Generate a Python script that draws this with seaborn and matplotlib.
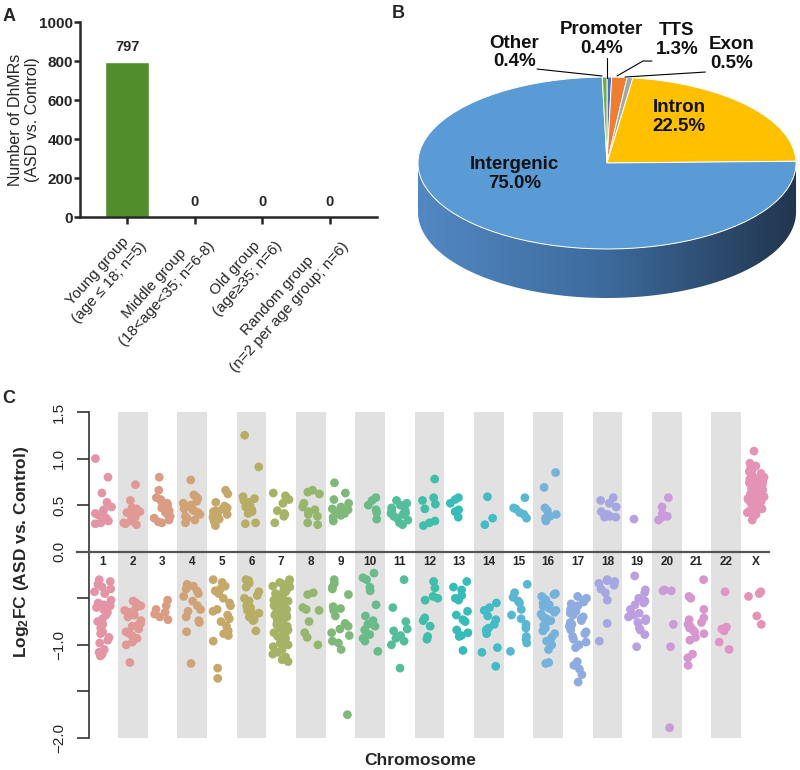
import numpy as np
import pandas as pd
import matplotlib
matplotlib.use("Agg")
import matplotlib.pyplot as plt
from matplotlib.patches import Polygon
from matplotlib.colors import LinearSegmentedColormap
import seaborn as sns

# ---- panel A: number of DhMRs per age group
groups = ["Young group\n(age ≤ 18; n=5)",
          "Middle group\n(18<age<35; n=6-8)",
          "Old group\n(age≥35; n=6)",
          "Random group\n(n=2 per age group; n=6)"]
dhmr_counts = [797, 0, 0, 0]

# ---- panel B: genomic distribution of DhMRs
regions = ["Promoter", "TTS", "Exon", "Intron", "Intergenic", "Other"]
region_pct = [0.4, 1.3, 0.5, 22.5, 75.0, 0.4]
region_colors = ["#4472C4", "#ED7D31", "#A5A5A5", "#FFC000", "#5B9BD5", "#70AD47"]

# ---- panel C: log2FC of DhMRs per chromosome
chrom_labels = [str(i) for i in range(1, 23)] + ["X"]
chr_1 = [1.00, 0.80, 0.63, 0.53, 0.48, 0.45, 0.43, 0.41, 0.39, 0.37, 0.36, 0.33, 0.31, 0.30,
         -0.30, -0.32, -0.35, -0.38, -0.40, -0.43, -0.45, -0.52, -0.55, -0.57, -0.58, -0.60, -0.62,
         -0.65, -0.68, -0.72, -0.75, -0.78, -0.82, -0.86, -0.88, -0.92, -0.95, -0.98, -1.05, -1.08,
         -1.10, -1.12]
chr_2 = [0.72, 0.55, 0.47, 0.46, 0.44, 0.43, 0.42, 0.41, 0.40, 0.38, 0.37, 0.35, 0.33, 0.31, 0.30, 0.29,
         -0.53, -0.55, -0.58, -0.60, -0.63, -0.65, -0.68, -0.70, -0.74, -0.77, -0.78, -0.80, -0.83,
         -0.86, -0.88, -0.90, -0.93, -0.97, -1.00, -1.19]
chr_3 = [0.80, 0.66, 0.58, 0.56, 0.54, 0.52, 0.50, 0.49, 0.47, 0.46, 0.44, 0.42, 0.40, 0.38, 0.36,
         0.34, 0.32, 0.31,
         -0.52, -0.58, -0.62, -0.65, -0.67, -0.70, -0.73]
chr_4 = [0.77, 0.61, 0.59, 0.57, 0.54, 0.52, 0.50, 0.48, 0.46, 0.45, 0.44, 0.42, 0.40, 0.38, 0.36,
         0.34, 0.31,
         -0.35, -0.37, -0.40, -0.42, -0.45, -0.48, -0.53, -0.58, -0.62, -0.64, -0.70, -0.74, -0.76,
         -0.86, -1.20]
chr_5 = [0.66, 0.62, 0.53, 0.49, 0.47, 0.46, 0.44, 0.43, 0.42, 0.40, 0.38, 0.37, 0.35, 0.33, 0.28,
         -0.30, -0.33, -0.37, -0.40, -0.42, -0.45, -0.50, -0.55, -0.58, -0.62, -0.64, -0.68, -0.72,
         -0.75, -0.80, -0.85, -0.88, -0.90, -0.96, -1.25, -1.36]
chr_6 = [1.25, 0.91, 0.59, 0.57, 0.55, 0.53, 0.50, 0.48, 0.45, 0.43, 0.41, 0.31, 0.30,
         -0.30, -0.31, -0.34, -0.38, -0.43, -0.47, -0.50, -0.53, -0.58, -0.60, -0.63, -0.65, -0.66,
         -0.70, -0.73, -0.74, -0.85]
chr_7 = [0.63, 0.60, 0.56, 0.52, 0.44, 0.41, 0.40, 0.38, 0.31,
         -0.30, -0.32, -0.33, -0.35, -0.37, -0.38, -0.40, -0.42, -0.43, -0.45, -0.47, -0.48, -0.50,
         -0.52, -0.53, -0.55, -0.57, -0.58, -0.60, -0.62, -0.63, -0.65, -0.67, -0.68, -0.70, -0.71,
         -0.73, -0.75, -0.77, -0.78, -0.80, -0.82, -0.84, -0.85, -0.87, -0.89, -0.91, -0.93, -0.96,
         -0.98, -1.00, -1.02, -1.05, -1.08, -1.10, -1.13, -1.16, -1.18]
chr_8 = [0.66, 0.64, 0.62, 0.52, 0.48, 0.45, 0.43, 0.40, 0.38, 0.31, 0.29,
         -0.44, -0.46, -0.60, -0.62, -0.63, -0.75, -0.87, -0.92, -1.00]
chr_9 = [0.74, 0.63, 0.56, 0.52, 0.48, 0.46, 0.45, 0.43, 0.41, 0.39, 0.37, 0.33,
         -0.30, -0.34, -0.38, -0.40, -0.46, -0.59, -0.61, -0.63, -0.69, -0.77, -0.80, -0.83, -0.87,
         -0.90, -0.96, -0.98, -1.05, -1.75]
chr_10 = [0.58, 0.55, 0.50, 0.45, 0.42, 0.35,
          -0.23, -0.28, -0.30, -0.38, -0.42, -0.57, -0.69, -0.74, -0.78, -0.80, -0.84, -0.89, -0.93,
          -0.96, -1.07]
chr_11 = [0.55, 0.52, 0.50, 0.47, 0.45, 0.44, 0.42, 0.41, 0.40, 0.38, 0.36, 0.34, 0.31, 0.29,
          -0.30, -0.60, -0.75, -0.83, -0.85, -0.90, -0.93, -0.96, -1.00, -1.25]
chr_12 = [0.78, 0.58, 0.55, 0.51, 0.46, 0.33, 0.31, 0.28,
          -0.32, -0.39, -0.48, -0.50, -0.52, -0.71, -0.74, -0.80, -0.91, -0.94]
chr_13 = [0.58, 0.56, 0.52, 0.45, 0.43, 0.37,
          -0.32, -0.38, -0.41, -0.47, -0.50, -0.52, -0.64, -0.68, -0.73, -0.75, -0.84, -0.87, -0.90,
          -0.91, -1.06]
chr_14 = [0.59, 0.36, 0.29,
          -0.55, -0.60, -0.63, -0.69, -0.73, -0.78, -0.82, -0.84, -0.88, -1.03, -1.08, -1.23]
chr_15 = [0.58, 0.47, 0.46, 0.42, 0.40, 0.36,
          -0.35, -0.44, -0.49, -0.53, -0.55, -0.62, -0.68, -0.72, -0.78, -0.82, -0.91, -0.94, -0.98,
          -1.07]
chr_16 = [0.85, 0.69, 0.47, 0.44, 0.40, 0.38, 0.36, 0.33,
          -0.45, -0.46, -0.48, -0.50, -0.52, -0.55, -0.57, -0.59, -0.61, -0.63, -0.65, -0.67, -0.70,
          -0.72, -0.74, -0.76, -0.79, -0.82, -0.85, -0.88, -0.92, -0.96, -1.00, -1.05, -1.19, -1.20]
chr_17 = [-0.48, -0.50, -0.52, -0.54, -0.56, -0.58, -0.60, -0.62, -0.64, -0.66, -0.68, -0.70,
          -0.72, -0.74, -0.76, -0.78, -0.80, -0.82, -0.84, -0.86, -0.88, -0.91, -0.94, -0.97, -1.00,
          -1.03, -1.18, -1.22, -1.26, -1.32, -1.40]
chr_18 = [0.58, 0.55, 0.52, 0.48, 0.43, 0.40, 0.38, 0.37, 0.37,
          -0.30, -0.31, -0.32, -0.34, -0.36, -0.40, -0.44, -0.52, -0.77, -0.96]
chr_19 = [0.35,
          -0.26, -0.41, -0.44, -0.50, -0.53, -0.55, -0.57, -0.62, -0.66, -0.68, -0.70, -0.72, -0.74,
          -0.76, -0.82, -0.84, -0.89, -1.02]
chr_20 = [0.58, 0.48, 0.41, 0.38, 0.37, 0.34,
          -0.41, -0.42, -0.42, -0.78, -1.02, -1.89]
chr_21 = [-0.30, -0.48, -0.50, -0.62, -0.71, -0.73, -0.76, -0.78, -0.80, -0.82, -0.84, -0.86,
          -0.88, -0.92, -0.95, -1.10, -1.14, -1.22]
chr_22 = [-0.43, -0.81, -0.83, -0.85, -0.97, -1.05]
chr_X = [1.08, 0.95, 0.92, 0.90, 0.88, 0.86, 0.84, 0.82, 0.80, 0.79, 0.78, 0.77, 0.76, 0.75, 0.74,
         0.73, 0.72, 0.71, 0.70, 0.69, 0.68, 0.67, 0.66, 0.65, 0.64, 0.63, 0.62, 0.61, 0.60, 0.59,
         0.58, 0.57, 0.56, 0.55, 0.54, 0.52, 0.50, 0.48, 0.46, 0.44, 0.42, 0.40, 0.38, 0.34,
         -0.43, -0.45, -0.48, -0.69, -0.78]
chrom_values = [chr_1, chr_2, chr_3, chr_4, chr_5, chr_6, chr_7, chr_8, chr_9, chr_10, chr_11,
                chr_12, chr_13, chr_14, chr_15, chr_16, chr_17, chr_18, chr_19, chr_20, chr_21,
                chr_22, chr_X]


def rainbow_hcl(n, c=50, l=70):
    #hcl (polar Luv) colours evenly spaced in hue, like R's rainbow_hcl
    h = np.deg2rad(np.arange(n) * 360.0 / n)
    u, v = c * np.cos(h), c * np.sin(h)
    xn, yn, zn = 95.047, 100.0, 108.883
    den = xn + 15 * yn + 3 * zn
    un, vn = 4 * xn / den, 9 * yn / den
    Y = yn * ((l + 16) / 116.0) ** 3
    up, vp = u / (13 * l) + un, v / (13 * l) + vn
    X = Y * 9 * up / (4 * vp)
    Z = Y * (12 - 3 * up - 20 * vp) / (4 * vp)
    xyz = np.vstack([X, np.full(n, Y), Z]) / 100.0
    m = np.array([[3.2404542, -1.5371385, -0.4985314],
                  [-0.9692660, 1.8760108, 0.0415560],
                  [0.0556434, -0.2040259, 1.0572252]])
    rgb = (m @ xyz).T
    rgb = np.where(rgb <= 0.0031308, 12.92 * rgb, 1.055 * np.clip(rgb, 0, None) ** (1 / 2.4) - 0.055)
    return [tuple(x) for x in np.clip(rgb, 0, 1)]


sns.set_style("ticks")
plt.rcParams["font.family"] = ["Liberation Sans", "DejaVu Sans"]
plt.rcParams["mathtext.fontset"] = "custom"
plt.rcParams["mathtext.bf"] = "Liberation Sans:bold"
plt.rcParams["mathtext.rm"] = "Liberation Sans:bold"

fig = plt.figure(figsize=(8, 7.7), dpi=100)

#panel A - bar chart
axA = fig.add_axes([0.1, 0.718, 0.371, 0.253])
dfA = pd.DataFrame({"group": groups, "count": dhmr_counts})
sns.barplot(data=dfA, x="group", y="count", color="#4F8E2B", saturation=1, width=0.65, ax=axA)
axA.bar_label(axA.containers[0], padding=6, fontsize=10.5, fontweight="bold")
axA.set_xlim(-0.7, 3.7)
axA.set_ylim(0, 1000)
axA.set_yticks(range(0, 1001, 200))
axA.set_xticks(range(len(groups)))
axA.set_xticklabels(groups, rotation=48, ha="right", rotation_mode="anchor", fontsize=11,
                    multialignment="center")
for lbl in axA.get_xticklabels():
    lbl.set_x(lbl.get_position()[0] + 0.12)
for lbl in axA.get_yticklabels():
    lbl.set_fontweight("bold")
axA.tick_params(axis="y", labelsize=11, width=1.8, length=4, pad=1)
axA.tick_params(axis="x", width=1.8, length=5, pad=3)
axA.set_xlabel("")
axA.set_ylabel("Number of DhMRs\n(ASD vs. Control)", fontsize=11.5)
axA.yaxis.set_label_coords(-0.135, 0.5)
sns.despine(ax=axA)
for s in ["left", "bottom"]:
    axA.spines[s].set_linewidth(1.8)

#panel B - pseudo 3D pie
axB = fig.add_axes([0.5, 0.5844, 0.5, 0.3896])
depth = 0.57
t = np.linspace(np.pi, 2 * np.pi, 200)
side = np.concatenate([np.c_[np.cos(t), np.sin(t)],
                       np.c_[np.cos(t[::-1]), np.sin(t[::-1]) - depth]])
side_poly = Polygon(side, closed=True, facecolor="none", edgecolor="none")
axB.add_patch(side_poly)
side_cmap = LinearSegmentedColormap.from_list("side", ["#5288C2", "#3C6A9C", "#22354E"])
im = axB.imshow(np.linspace(0, 1, 256)[None, :], extent=(-1, 1, -1 - depth, 0.05),
                aspect="auto", cmap=side_cmap, zorder=0.5)
im.set_clip_path(side_poly)
axB.pie(region_pct, colors=region_colors, startangle=90, counterclock=False, radius=1,
        center=(0, 0), wedgeprops=dict(edgecolor="white", linewidth=0.7))
axB.set_aspect("auto")
axB.set_xlim(-1.095, 1.021)
axB.set_ylim(-1.826, 1.663)
axB.axis("off")

label_pos = [(-0.03, 1.44), (0.37, 1.43), (0.66, 1.267), (0.38, 0.535), (-0.49, -0.128), (-0.49, 1.285)]
for name, pct, (lx, ly) in zip(regions, region_pct, label_pos):
    axB.text(lx, ly, f"{name}\n{pct:.1f}%", ha="center", va="center", fontsize=13.5,
             fontweight="bold", color="#111111", linespacing=1.12)
leaders = [([-0.37, -0.026], [1.093, 1.012]),
           ([0.0, 0.0], [1.22, 0.988]),
           ([0.238, 0.19, 0.053], [1.186, 1.186, 1.012]),
           ([0.52, 0.095], [1.058, 1.0])]
for lx, ly in leaders:
    axB.plot(lx, ly, color="black", lw=0.8)

#panel C - strip plot per chromosome
rows = [(c, v) for c, vals in zip(chrom_labels, chrom_values) for v in vals]
dfC = pd.DataFrame(rows, columns=["chrom", "log2fc"])
pal = rainbow_hcl(len(chrom_labels))

axC = fig.add_axes([0.09625, 0.04156, 0.865, 0.4234])
for i in range(1, 23, 2):
    axC.axvspan(i - 0.5, i + 0.5, color="#E1E1E1", lw=0, zorder=0)
np.random.seed(7)
sns.stripplot(data=dfC, x="chrom", y="log2fc", hue="chrom", order=chrom_labels,
              hue_order=chrom_labels, palette=pal, legend=False, jitter=0.3, size=6.3,
              linewidth=0, ax=axC, zorder=2)
axC.set_xlim(-0.876, 22.44)
axC.set_ylim(-2.0, 1.5)
axC.spines["top"].set_visible(False)
axC.spines["right"].set_visible(False)
axC.spines["left"].set_position(("data", -0.47))
axC.spines["left"].set_linewidth(1.2)
axC.spines["left"].set_color("#333333")
axC.spines["bottom"].set_position(("data", 0))
axC.spines["bottom"].set_color("#555555")
axC.spines["bottom"].set_linewidth(1.6)
axC.spines["bottom"].set_zorder(3)
axC.tick_params(axis="x", length=0, pad=3, labelsize=8.5)
for lbl in axC.get_xticklabels():
    lbl.set_fontweight("bold")
axC.set_yticks([1.5, 1.0, 0.5, 0.0, -0.5, -1.0, -1.5, -2.0])
axC.set_yticklabels(["1.5", "1.0", "0.5", "0.0", "", "\u22121.0", "", "\u22122.0"])
axC.tick_params(axis="y", length=8.6, width=1.2, color="#333333", pad=8, labelsize=11,
                labelrotation=90)
for lbl in axC.get_yticklabels():
    lbl.set_va("center")
axC.set_xlabel("Chromosome", fontsize=12.5, fontweight="bold")
axC.xaxis.set_label_coords(0.496, -0.045)
axC.set_ylabel("Log$\\mathbf{_2}$FC (ASD vs. Control)", fontsize=12.5, fontweight="bold")
axC.yaxis.set_label_coords(-0.066, 0.57)

fig.text(0.003, 0.99, "A", fontsize=13, fontweight="bold", va="top")
fig.text(0.49, 0.993, "B", fontsize=13, fontweight="bold", va="top")
fig.text(0.003, 0.494, "C", fontsize=13, fontweight="bold", va="top")

plt.savefig("out.png", dpi=100)
